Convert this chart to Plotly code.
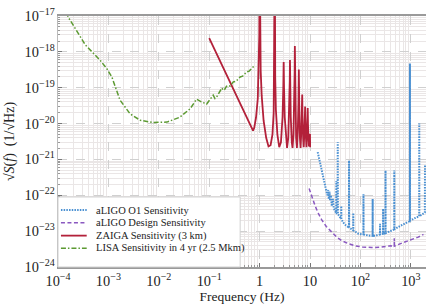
import plotly.graph_objects as go

# ---------------- data (frequency in Hz, ASD in 1/sqrt(Hz)) ----------------
lisa_f = [1.5e-4, 1.58e-4, 3.5e-4, 6.8e-4, 9.3e-4, 1.17e-3, 1.7e-3, 2.7e-3, 4.3e-3,
          7.8e-3, 1.45e-2, 2.6e-2, 4.2e-2, 5.6e-2, 7.1e-2, 8.9e-2, 0.12, 0.13, 0.14,
          0.16, 0.178, 0.19, 0.204, 0.22, 0.24, 0.26, 0.30, 0.34, 0.41, 0.46, 0.55,
          0.62, 0.75, 0.81]
lisa_s = [1.3e-17, 9.5e-18, 1.55e-18, 5.9e-19, 3.4e-19, 2.0e-19, 4.5e-20, 1.86e-20, 1.23e-20,
          1.07e-20, 1.1e-20, 1.5e-20, 2.6e-20, 4.8e-20, 4.0e-20, 3.5e-20, 6.2e-20, 5.0e-20, 5.5e-20,
          7.5e-20, 9.8e-20, 8.5e-20, 9.1e-20, 1.1e-19, 1.17e-19, 1.1e-19, 1.45e-19, 1.5e-19, 2.0e-19,
          2.1e-19, 2.75e-19, 2.9e-19, 3.8e-19, 4.3e-19]

zaiga_f = [0.10, 0.15, 0.2, 0.3, 0.4, 0.5, 0.6, 0.65, 0.70, 0.74, 0.78, 0.85, 0.92, 0.96, 0.985,
           1.0, 1.015, 1.05, 1.1, 1.2, 1.35, 1.5, 1.65, 1.8, 1.9, 1.96,
           2.0, 2.04, 2.1, 2.25, 2.45, 2.65, 2.85, 2.95,
           3.0, 3.05, 3.15, 3.35, 3.5, 3.7, 3.88, 3.96,
           4.0, 4.04, 4.15, 4.35, 4.5, 4.7, 4.88, 4.96,
           5.0, 5.04, 5.12, 5.3, 5.5, 5.72, 5.9,
           6.0, 6.1, 6.3, 6.5, 6.75, 6.92,
           7.0, 7.08, 7.3, 7.5, 7.75, 7.95,
           8.0, 8.05, 8.3, 8.5, 8.8,
           9.0, 9.1, 9.3, 9.5, 9.8, 10.0, 10.05]
zaiga_s = [2.4e-18, 7.1e-19, 3.0e-19, 8.9e-20, 3.7e-20, 1.9e-20, 1.1e-20, 8.5e-21, 6.8e-21, 6.4e-21, 7.5e-21, 1.5e-20, 5e-20, 3e-19, 3e-18,
           1e-15, 3e-18, 3e-19, 6e-20, 1.2e-20, 4e-21, 2.3e-21, 2.5e-21, 5e-21, 2e-20, 2e-19,
           1e-15, 2e-19, 2.5e-20, 5e-21, 2.2e-21, 3e-21, 1.5e-20, 1e-19,
           5.2e-19, 1e-19, 1.5e-20, 3.5e-21, 2.1e-21, 4e-21, 2.5e-20, 1.5e-19,
           5.9e-19, 1.5e-19, 1.5e-20, 3e-21, 2.1e-21, 5e-21, 4e-20, 3e-19,
           1.45e-18, 3e-19, 4e-20, 4e-21, 2.1e-21, 6e-21, 4e-20,
           3.2e-19, 4e-20, 4e-21, 2.1e-21, 7e-21, 3e-20,
           6.5e-20, 2e-20, 4e-21, 2.2e-21, 6e-21, 2e-20,
           3e-20, 1.5e-20, 4e-21, 2.2e-21, 8e-21,
           2.7e-20, 1e-20, 4e-21, 2.3e-21, 4e-21, 5.2e-21, 2.2e-21]

o1_f = [14.2, 16, 18, 20, 22, 23, 23.5, 24.5, 25, 26, 27, 28.5, 29.5, 31, 33, 33.3, 33.6,
        35.2, 35.5, 35.8, 37, 40, 41.5, 41.7, 41.9, 45.6, 50, 59.2, 59.5, 59.8,
        72, 72.2, 72.4, 91, 114.5, 115, 115.5, 140, 174.5, 175, 175.5, 195,
        244, 245, 246, 281, 282, 283, 300, 314, 315, 316, 390, 469, 470, 471,
        615, 800, 955, 960, 965, 1200, 1465, 1470, 1475, 1900, 1910]
o1_s = [1.6e-21, 7.1e-22, 3.2e-22, 1.8e-22, 1.0e-22, 1.4e-22, 7.9e-23, 1.26e-22, 7.1e-23, 1.0e-22, 5.0e-23, 7.9e-23, 4.5e-23, 3.7e-23, 3.3e-23, 2.5e-22, 3.2e-23,
        3.0e-23, 3.0e-21, 2.95e-23, 2.8e-23, 2.4e-23, 2.2e-23, 5.0e-23, 2.15e-23, 1.75e-23, 1.5e-23, 1.26e-23, 9.3e-22, 1.26e-23,
        1.05e-23, 3.2e-23, 1.05e-23, 8.5e-24, 8.1e-24, 1.07e-22, 8.1e-24, 7.6e-24, 7.4e-24, 7.9e-23, 7.4e-24, 7.4e-24,
        8.1e-24, 1.6e-23, 8.1e-24, 8.5e-24, 4.2e-23, 8.5e-24, 8.7e-24, 8.8e-24, 4.9e-22, 8.8e-24, 1.0e-23, 1.12e-23, 4.9e-22, 1.12e-23,
        1.4e-23, 1.7e-23, 1.9e-23, 4.7e-19, 1.95e-23, 2.3e-23, 2.6e-23, 1.0e-20, 2.6e-23, 3.3e-23, 6.8e-22]

design_f = [9.6, 11, 12.6, 14.5, 17, 21, 27, 34, 42.6, 55, 78, 110, 166, 250, 390, 469, 470, 471,
            705, 1120, 1400, 1780]
design_s = [1.55e-22, 8.5e-23, 5.1e-23, 3.2e-23, 2.1e-23, 1.35e-23, 9.1e-24, 6.8e-24, 5.4e-24, 4.6e-24, 3.9e-24,
            3.6e-24, 3.5e-24, 3.55e-24, 3.9e-24, 3.8e-24, 6.3e-24, 3.8e-24, 4.8e-24, 5.9e-24, 6.8e-24, 8.1e-24]

names = ["aLIGO O1 Sensitivity", "aLIGO Design Sensitivity",
         "ZAIGA Sensitivity (3 km)", "LISA Sensitivity in 4 yr (2.5 Mkm)"]
colors = ["#4a90d2", "#8a58c0", "#b3213a", "#5c9a32"]
dashes = ["1.5px,1.2px", "4px,2.5px", "solid", "5px,2px,1.5px,2px"]
widths = [2.0, 1.5, 1.8, 1.5]

SERIF = "Liberation Serif, Times New Roman, serif"

fig = go.Figure()
series = [(o1_f, o1_s), (design_f, design_s), (zaiga_f, zaiga_s), (lisa_f, lisa_s)]
for (fx, sy), nm, c, d, w in zip(series, names, colors, dashes, widths):
    fig.add_trace(go.Scatter(x=fx, y=sy, mode="lines", name=nm, showlegend=False,
                             line=dict(color=c, width=w, dash=d)))

axis_common = dict(
    type="log", dtick=1, exponentformat="power", showexponent="all",
    showgrid=True, gridcolor="#d0d0d0", griddash="dash", gridwidth=0.8,
    ticks="inside", ticklen=4, tickcolor="#777",
    tickfont=dict(family=SERIF, size=11.5, color="#222"),
    minor=dict(showgrid=True, gridcolor="#eae6e6", gridwidth=0.7, griddash="solid",
               ticks="inside", ticklen=2, tickcolor="#999", dtick="D1"),
    zeroline=False, automargin=False,
)

# custom compact legend (paper coordinates of the plot area)
shapes = [dict(type="rect", xref="paper", yref="paper", x0=0.0, x1=0.495, y0=0.0, y1=0.279,
               fillcolor="white", line=dict(color="#d0d0d0", width=1), layer="above")]
annotations = []
ys = [0.227, 0.176, 0.125, 0.075]
for nm, c, d, w, yy in zip(names, colors, dashes, widths, ys):
    shapes.append(dict(type="line", xref="paper", yref="paper", x0=0.008, x1=0.078,
                       y0=yy, y1=yy, line=dict(color=c, width=min(w, 1.8), dash=d), layer="above"))
    annotations.append(dict(xref="paper", yref="paper", x=0.098, y=yy, text=nm,
                            showarrow=False, xanchor="left", yanchor="middle",
                            font=dict(family=SERIF, size=10.5, color="#222")))

fig.update_layout(
    width=437, height=304,
    margin=dict(l=58, r=11, t=16, b=37),
    paper_bgcolor="white", plot_bgcolor="white",
    font=dict(family=SERIF, color="#222"),
    xaxis=dict(axis_common, range=[-4, 3.301],
               showline=True, linecolor="#9a9a9a", linewidth=2, mirror=True,
               title=dict(text="Frequency (Hz)", font=dict(family=SERIF, size=13.5), standoff=3)),
    yaxis=dict(axis_common, range=[-24, -17],
               showline=True, linecolor="#bbbbbb", linewidth=1,
               title=dict(text="√<i>S</i>(<i>f</i>)  (1/√Hz)", font=dict(family=SERIF, size=14), standoff=6)),
    shapes=shapes, annotations=annotations,
    showlegend=False,
)

fig.write_html("out.html", config={"displayModeBar": False},
               post_script="document.body.style.margin='0';")
